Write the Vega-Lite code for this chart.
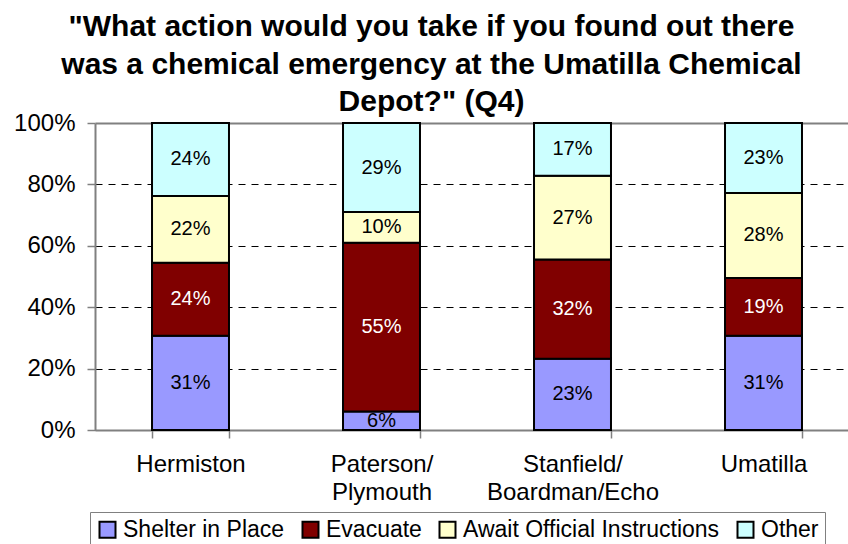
{
  "$schema": "https://vega.github.io/schema/vega-lite/v6.json",
  "width": 753,
  "height": 307,
  "autosize": {"type": "none"},
  "padding": {"left": 95, "top": 123, "right": 0, "bottom": 114},
  "background": "white",
  "config": {
    "font": "Liberation Sans",
    "view": {"stroke": null}
  },
  "title": {
    "text": ["\"What action would you take if you found out there", "was a chemical emergency at the Umatilla Chemical", "Depot?\" (Q4)"],
    "font": "Liberation Sans",
    "fontSize": 30,
    "fontWeight": "bold",
    "color": "black",
    "lineHeight": 37.5,
    "anchor": "middle",
    "dx": -40,
    "offset": -6
  },
  "data": {
    "values": [
      {"town": "Hermiston", "resp": "Shelter in Place", "v": 31},
      {"town": "Hermiston", "resp": "Evacuate", "v": 24},
      {"town": "Hermiston", "resp": "Await Official Instructions", "v": 22},
      {"town": "Hermiston", "resp": "Other", "v": 24},
      {"town": "Paterson/|Plymouth", "resp": "Shelter in Place", "v": 6},
      {"town": "Paterson/|Plymouth", "resp": "Evacuate", "v": 55},
      {"town": "Paterson/|Plymouth", "resp": "Await Official Instructions", "v": 10},
      {"town": "Paterson/|Plymouth", "resp": "Other", "v": 29},
      {"town": "Stanfield/|Boardman/Echo", "resp": "Shelter in Place", "v": 23},
      {"town": "Stanfield/|Boardman/Echo", "resp": "Evacuate", "v": 32},
      {"town": "Stanfield/|Boardman/Echo", "resp": "Await Official Instructions", "v": 27},
      {"town": "Stanfield/|Boardman/Echo", "resp": "Other", "v": 17},
      {"town": "Umatilla", "resp": "Shelter in Place", "v": 31},
      {"town": "Umatilla", "resp": "Evacuate", "v": 19},
      {"town": "Umatilla", "resp": "Await Official Instructions", "v": 28},
      {"town": "Umatilla", "resp": "Other", "v": 23}
    ]
  },
  "transform": [
    {"calculate": "indexof(['Shelter in Place','Evacuate','Await Official Instructions','Other'], datum.resp)", "as": "o"},
    {"stack": "v", "groupby": ["town"], "sort": [{"field": "o", "order": "ascending"}], "offset": "normalize", "as": ["y0", "y1"]},
    {"calculate": "(datum.y0 + datum.y1) / 2", "as": "mid"},
    {"calculate": "datum.v + '%'", "as": "label"}
  ],
  "encoding": {
    "x": {
      "field": "town",
      "type": "nominal",
      "sort": ["Hermiston", "Paterson/|Plymouth", "Stanfield/|Boardman/Echo", "Umatilla"],
      "scale": {"range": [0, 764], "paddingInner": 0.597, "paddingOuter": 0.2985},
      "axis": {
        "title": null,
        "labelAngle": 0,
        "labelExpr": "split(datum.label, '|')",
        "labelFont": "Liberation Sans",
        "labelFontSize": 24,
        "labelColor": "black",
        "labelLineHeight": 28,
        "labelBaseline": "top",
        "labelPadding": 14,
        "tickBand": "extent",
        "tickSize": 8,
        "tickColor": "#808080",
        "tickWidth": 1.5,
        "domainColor": "#808080",
        "domainWidth": 2,
        "grid": false
      }
    }
  },
  "layer": [
    {
      "mark": {"type": "bar", "stroke": "black", "strokeWidth": 2},
      "encoding": {
        "y": {
          "field": "y0",
          "type": "quantitative",
          "scale": {"domain": [0, 1]},
          "axis": {
            "title": null,
            "format": ".0%",
            "values": [0, 0.2, 0.4, 0.6, 0.8, 1],
            "labelFont": "Liberation Sans",
            "labelFontSize": 24,
            "labelColor": "black",
            "labelPadding": 12,
            "tickSize": 8,
            "tickColor": "#808080",
            "tickWidth": 1.5,
            "domainColor": "#808080",
            "domainWidth": 2,
            "grid": true,
            "gridColor": {"condition": {"test": "datum.value == 1", "value": "#808080"}, "value": "black"},
            "gridWidth": {"condition": {"test": "datum.value == 1", "value": 2}, "value": 1},
            "gridDash": {"condition": {"test": "datum.value == 1", "value": []}, "value": [7, 6]}
          }
        },
        "y2": {"field": "y1"},
        "fill": {
          "field": "resp",
          "type": "nominal",
          "scale": {
            "domain": ["Shelter in Place", "Evacuate", "Await Official Instructions", "Other"],
            "range": ["#9999FF", "#800000", "#FFFFCC", "#CCFFFF"]
          },
          "legend": {
            "title": null,
            "orient": "none",
            "direction": "horizontal",
            "legendX": -5,
            "legendY": 389,
            "padding": 6,
            "strokeColor": "#808080",
            "fillColor": "white",
            "labelFont": "Liberation Sans",
            "labelFontSize": 23,
            "labelColor": "black",
            "labelOffset": 4,
            "labelLimit": 400,
            "columnPadding": 13,
            "symbolType": "square",
            "symbolSize": 256,
            "symbolStrokeColor": "black",
            "symbolStrokeWidth": 2
          }
        }
      }
    },
    {
      "mark": {"type": "text", "font": "Liberation Sans", "fontSize": 20, "baseline": "middle", "align": "center"},
      "encoding": {
        "y": {"field": "mid", "type": "quantitative"},
        "text": {"field": "label"},
        "color": {"condition": {"test": "datum.resp == 'Evacuate'", "value": "white"}, "value": "black"}
      }
    }
  ]
}
